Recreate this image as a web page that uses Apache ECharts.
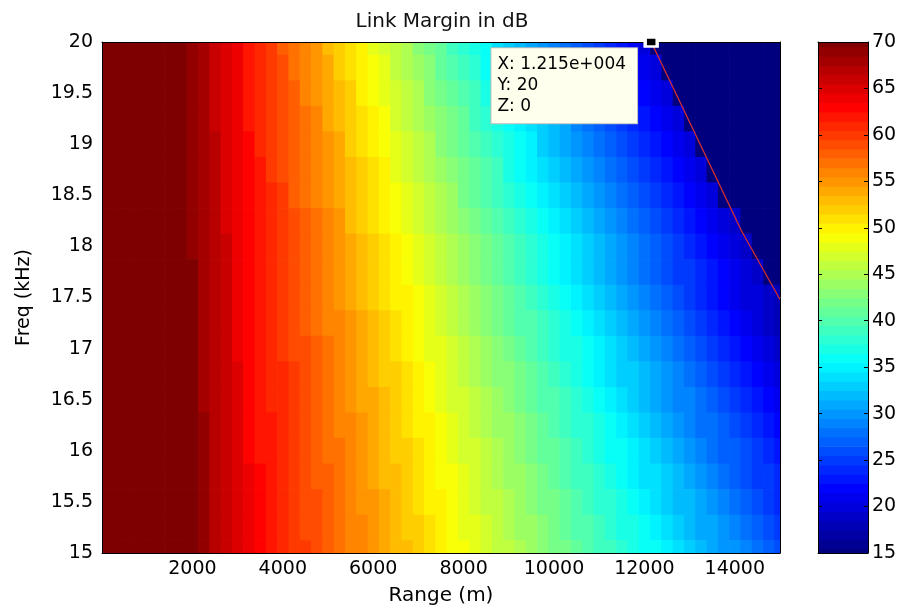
<!DOCTYPE html>
<html>
<head>
<meta charset="utf-8">
<script src="https://cdn.jsdelivr.net/npm/echarts@6/dist/echarts.min.js"></script>
<style>
html, body { margin: 0; padding: 0; background: #ffffff; }
#chart { width: 898px; height: 608px; }
</style>
</head>
<body>
<div id="chart"></div>
<script>
// ---------- text ----------
const titleText = 'Link Margin in dB';
const xAxisName = 'Range (m)';
const yAxisName = 'Freq (kHz)';

// ---------- axes / ticks ----------
const xTickValues = [2000, 4000, 6000, 8000, 10000, 12000, 14000];
const yTickLabels = ['15', '15.5', '16', '16.5', '17', '17.5', '18', '18.5', '19', '19.5', '20'];
const colorbarTicks = [15, 20, 25, 30, 35, 40, 45, 50, 55, 60, 65, 70];

// ---------- grid of the surface ----------
const rangeM = [0, 250, 500, 750, 1000, 1250, 1500, 1750, 2000, 2250, 2500, 2750, 3000, 3250, 3500, 3750,
  4000, 4250, 4500, 4750, 5000, 5250, 5500, 5750, 6000, 6250, 6500, 6750, 7000, 7250, 7500, 7750,
  8000, 8250, 8500, 8750, 9000, 9250, 9500, 9750, 10000, 10250, 10500, 10750, 11000, 11250, 11500, 11750,
  12000, 12250, 12500, 12750, 13000, 13250, 13500, 13750, 14000, 14250, 14500, 14750, 15000];
const freqKHz = [20, 19.75, 19.5, 19.25, 19, 18.75, 18.5, 18.25, 18, 17.75, 17.5, 17.25, 17, 16.75, 16.5, 16.25, 16, 15.75, 15.5, 15.25, 15];

// ---------- link margin (dB), one row per frequency ----------
const m2000 = [84,82,80,78,76,74,72,71,69,68,66,65,64,62,61,60,58,57,56,55,53,52,51,50,48,47,46,45,43,42,41,39,38,37,36,34,33,32,31,30,29,28,27,26,25,24,23,22,20,14,13,12,12,11,10,9,8,7,6,5,4];
const m1975 = [84,82,80,78,76,74,72,71,69,68,66,65,64,62,61,60,59,57,56,55,54,52,51,50,49,48,46,45,44,43,41,40,39,38,36,35,34,33,32,31,30,29,28,27,26,24,23,22,21,20,14,14,13,12,11,10,9,8,7,6,5];
const m1950 = [84,82,80,78,76,74,72,71,69,68,66,65,64,62,61,60,59,58,56,55,54,53,52,50,49,48,47,46,45,43,42,41,40,39,37,36,35,34,33,32,31,30,29,28,26,25,24,23,22,21,20,14,13,12,11,10,9,8,7,6,5];
const m1925 = [84,82,80,78,76,74,72,71,69,68,66,65,64,62,61,60,59,58,57,56,54,53,52,51,50,49,47,46,45,44,43,42,41,39,38,37,36,35,34,33,32,31,29,28,27,26,25,24,23,22,21,20,14,13,12,11,10,9,8,7,6];
const m1900 = [84,82,80,78,76,74,72,71,69,68,67,65,64,63,61,60,59,58,57,56,55,54,52,51,50,49,48,47,46,45,43,42,41,40,39,38,37,36,35,33,32,31,30,29,28,27,26,25,24,23,22,21,20,15,14,13,12,11,10,9,8];
const m1875 = [84,82,80,78,76,74,72,71,69,68,67,65,64,63,62,60,59,58,57,56,55,54,53,52,51,50,48,47,46,45,44,43,42,41,40,39,37,36,35,34,33,32,31,30,29,28,27,26,25,24,23,22,21,20,15,14,13,12,11,10,9];
const m1850 = [84,82,80,78,76,74,72,71,69,68,67,65,64,63,62,61,60,58,57,56,55,54,53,52,51,50,49,48,47,46,45,44,42,41,40,39,38,37,36,35,34,33,32,31,30,29,28,27,26,25,24,23,22,21,20,15,14,13,12,11,10];
const m1825 = [84,82,80,78,76,74,72,71,69,68,67,65,64,63,62,61,60,59,58,57,56,55,53,52,51,50,49,48,47,46,45,44,43,42,41,40,39,38,37,36,35,34,33,32,31,30,29,28,27,26,25,24,23,22,21,20,19,14,13,12,11];
const m1800 = [84,82,80,78,76,74,72,71,69,68,67,66,64,63,62,61,60,59,58,57,56,55,54,53,52,51,50,49,48,47,46,45,44,43,42,41,40,39,38,37,36,35,34,33,32,31,30,29,28,27,26,25,24,23,22,21,20,19,14,13,12];
const m1775 = [84,82,80,78,76,74,72,71,70,68,67,66,64,63,62,61,60,59,58,57,56,55,54,53,52,51,50,49,48,47,46,45,44,43,42,41,40,39,38,37,36,35,34,33,32,31,30,29,28,27,26,25,25,24,23,22,21,20,19,14,13];
const m1750 = [84,82,80,78,76,74,72,71,70,68,67,66,64,63,62,61,60,59,58,57,56,55,54,53,52,51,50,50,49,48,47,46,45,44,43,42,41,40,39,38,37,36,35,34,33,32,31,30,29,28,27,26,25,24,23,22,21,20,20,19,18];
const m1725 = [84,82,80,78,76,74,72,71,70,68,67,66,64,63,62,61,60,59,58,57,56,56,55,54,53,52,51,50,49,48,47,46,45,44,43,42,41,40,40,39,38,37,36,35,34,33,32,31,30,29,28,27,26,25,24,23,22,21,20,19,18];
const m1700 = [84,82,80,78,76,74,72,71,70,68,67,66,64,63,62,61,60,59,59,58,57,56,55,54,53,52,51,50,49,48,48,47,46,45,44,43,42,41,40,39,38,37,37,36,35,34,33,32,31,30,29,28,27,26,25,24,23,22,21,20,19];
const m1675 = [84,82,80,78,76,74,72,71,70,68,67,66,65,63,62,61,61,60,59,58,57,56,55,54,53,52,52,51,50,49,48,47,46,45,44,43,43,42,41,40,39,38,37,36,35,34,33,33,32,31,30,29,28,27,26,25,24,23,22,21,20];
const m1650 = [84,82,80,78,76,74,72,71,70,68,67,66,65,63,62,61,61,60,59,58,57,56,55,54,54,53,52,51,50,49,48,47,47,46,45,44,43,42,41,40,40,39,38,37,36,35,34,33,32,31,30,29,29,28,27,26,25,24,23,22,21];
const m1625 = [84,82,80,78,76,74,72,71,70,69,67,66,65,63,62,62,61,60,59,58,57,56,56,55,54,53,52,51,50,50,49,48,47,46,45,44,44,43,42,41,40,39,38,38,37,36,35,34,33,32,31,30,29,28,28,27,26,25,24,23,22];
const m1600 = [84,82,80,78,76,74,72,71,70,69,67,66,65,63,62,62,61,60,59,58,57,57,56,55,54,53,52,52,51,50,49,48,47,47,46,45,44,43,42,41,41,40,39,38,37,36,36,35,34,33,32,31,30,29,28,27,27,26,25,24,23];
const m1575 = [84,82,80,78,76,74,72,71,70,69,67,66,65,64,63,62,61,60,59,58,58,57,56,55,54,53,53,52,51,50,49,49,48,47,46,45,44,44,43,42,41,40,39,39,38,37,36,35,34,34,33,32,31,30,29,28,27,26,25,25,24];
const m1550 = [84,82,80,78,76,74,72,71,70,69,67,66,65,64,63,62,61,60,59,59,58,57,56,55,55,54,53,52,51,50,50,49,48,47,46,46,45,44,43,42,42,41,40,39,38,38,37,36,35,34,33,32,32,31,30,29,28,27,26,25,24];
const m1525 = [84,82,80,78,76,74,72,71,70,69,67,66,65,64,63,62,61,60,59,59,58,57,56,56,55,54,53,52,52,51,50,49,48,48,47,46,45,44,44,43,42,41,40,40,39,38,37,37,36,35,34,33,32,31,31,30,29,28,27,26,25];
const m1500 = [84,82,80,78,76,74,72,71,70,69,67,66,65,64,63,62,61,60,60,59,58,57,56,56,55,54,53,53,52,51,50,49,49,48,47,46,46,45,44,43,42,42,41,40,39,39,38,37,36,36,35,34,33,32,31,30,30,29,28,27,26];

const marginRows = [m2000, m1975, m1950, m1925, m1900, m1875, m1850, m1825, m1800, m1775, m1750,
  m1725, m1700, m1675, m1650, m1625, m1600, m1575, m1550, m1525, m1500];

// ---------- colour bar levels ----------
const colorbarLevels = [15,16,17,18,19,20,21,22,23,24,25,26,27,28,29,30,31,32,33,34,35,36,37,38,39,40,41,42,
  43,44,45,46,47,48,49,50,51,52,53,54,55,56,57,58,59,60,61,62,63,64,65,66,67,68,69,70];

// ---------- zero contour (red line) ----------
const contourRange = [12150, 12800, 13450, 14150, 15000];
const contourFreq = [20, 19.4, 18.8, 18.15, 17.48];

// ---------- data tip ----------
const tipPoint = [12150, 20, 0];

// =====================================================================
const FONT = 'DejaVu Sans';
const jet = ['#00007F', '#0000FF', '#007FFF', '#00FFFF', '#7FFF7F', '#FFFF00', '#FF7F00', '#FF0000', '#7F0000'];

const surfaceData = [];
marginRows.forEach(function (row, i) {
  row.forEach(function (z, j) {
    surfaceData.push([rangeM[j], freqKHz[i], z]);
  });
});
const colorbarData = colorbarLevels.map(function (v) { return [0.5, v, v]; });
const contourData = contourRange.map(function (r, i) { return [r, contourFreq[i]]; });

function matlabExp(v) {
  const s = v.toExponential(3).split('e');
  const sign = s[1][0] === '-' ? '-' : '+';
  const digits = s[1].replace(/[+-]/, '');
  return s[0] + 'e' + sign + ('000' + digits).slice(-3);
}
const tipText = ['X: ' + matlabExp(tipPoint[0]), 'Y: ' + tipPoint[1], 'Z: ' + tipPoint[2]].join('\n');

function cellRenderer(dx, dy) {
  return function (params, api) {
    const x = api.value(0), y = api.value(1);
    const a = api.coord([x - dx / 2, y + dy / 2]);
    const b = api.coord([x + dx / 2, y - dy / 2]);
    return {
      type: 'rect',
      shape: { x: a[0], y: a[1], width: b[0] - a[0] + 0.7, height: b[1] - a[1] + 0.7 },
      style: { fill: api.visual('color'), stroke: null },
      silent: true
    };
  };
}

const black = '#000000';
const lineStyle = { color: black, width: 1 };
const labelStyle = { color: black, fontFamily: FONT, fontSize: 19 };

const chart = echarts.init(document.getElementById('chart'), null, { renderer: 'canvas' });
chart.setOption({
  animation: false,
  backgroundColor: '#ffffff',
  title: {
    text: titleText, left: 437, top: 7, textAlign: 'center',
    textStyle: { color: '#111', fontFamily: FONT, fontSize: 20, fontWeight: 'normal' }
  },
  grid: [
    { left: 102, right: 118, top: 42, bottom: 55, outerBoundsMode: 'none', containLabel: false },
    { left: 818, width: 50, top: 42, bottom: 55, outerBoundsMode: 'none', containLabel: false }
  ],
  xAxis: [
    { gridIndex: 0, type: 'value', min: 0, max: 15000, position: 'bottom', z: 10,
      axisLine: { show: true, onZero: false, lineStyle: lineStyle }, axisTick: { show: false }, splitLine: { show: false },
      axisLabel: Object.assign({ customValues: xTickValues, margin: 7, formatter: function (v) { return String(v); } }, labelStyle),
      name: xAxisName, nameLocation: 'middle', nameGap: 33,
      nameTextStyle: { color: black, fontFamily: FONT, fontSize: 20 } },
    { gridIndex: 0, type: 'value', min: 0, max: 15000, position: 'top', z: 10,
      axisLine: { show: true, onZero: false, lineStyle: lineStyle }, axisTick: { show: false }, axisLabel: { show: false }, splitLine: { show: false } },
    { gridIndex: 1, type: 'value', min: 0, max: 1, position: 'bottom', z: 10,
      axisLine: { show: true, onZero: false, lineStyle: lineStyle }, axisTick: { show: false }, axisLabel: { show: false }, splitLine: { show: false } },
    { gridIndex: 1, type: 'value', min: 0, max: 1, position: 'top', z: 10,
      axisLine: { show: true, onZero: false, lineStyle: lineStyle }, axisTick: { show: false }, axisLabel: { show: false }, splitLine: { show: false } }
  ],
  yAxis: [
    { gridIndex: 0, type: 'value', min: 15, max: 20, interval: 0.5, position: 'left', z: 10,
      axisLine: { show: true, onZero: false, lineStyle: lineStyle }, axisTick: { show: false }, splitLine: { show: false },
      axisLabel: Object.assign({ margin: 9, formatter: function (v) { return yTickLabels[Math.round((v - 15) * 2)]; } }, labelStyle),
      name: yAxisName, nameLocation: 'middle', nameGap: 68, nameRotate: 90,
      nameTextStyle: { color: black, fontFamily: FONT, fontSize: 19 } },
    { gridIndex: 0, type: 'value', min: 15, max: 20, interval: 0.5, position: 'right', z: 10,
      axisLine: { show: true, onZero: false, lineStyle: lineStyle }, axisTick: { show: false }, axisLabel: { show: false }, splitLine: { show: false } },
    { gridIndex: 1, type: 'value', min: 15, max: 70, interval: 5, position: 'right', z: 10,
      axisLine: { show: true, onZero: false, lineStyle: lineStyle },
      axisTick: { show: true, inside: true, length: 4, lineStyle: lineStyle }, splitLine: { show: false },
      axisLabel: Object.assign({ customValues: colorbarTicks, margin: 4 }, labelStyle) },
    { gridIndex: 1, type: 'value', min: 15, max: 70, interval: 5, position: 'left', z: 10,
      axisLine: { show: true, onZero: false, lineStyle: lineStyle },
      axisTick: { show: true, inside: true, length: 4, lineStyle: lineStyle }, axisLabel: { show: false }, splitLine: { show: false } }
  ],
  visualMap: {
    show: false, type: 'continuous', min: 15, max: 70, dimension: 2, seriesIndex: [0, 3],
    inRange: { color: jet }
  },
  series: [
    { type: 'custom', name: 'margin', xAxisIndex: 0, yAxisIndex: 0, clip: true, z: 1,
      renderItem: cellRenderer(rangeM[1] - rangeM[0], freqKHz[0] - freqKHz[1]),
      encode: { x: 0, y: 1 }, data: surfaceData },
    { type: 'line', name: 'contour', xAxisIndex: 0, yAxisIndex: 0, z: 3, symbol: 'none', smooth: false,
      lineStyle: { color: '#E0302A', width: 1.2 }, data: contourData, silent: true },
    { type: 'scatter', name: 'tip', xAxisIndex: 0, yAxisIndex: 0, z: 12, clip: false,
      symbol: 'rect', symbolSize: [12, 9],
      itemStyle: { color: '#000000', borderColor: '#ffffff', borderWidth: 3, opacity: 1 },
      emphasis: { disabled: true },
      label: { show: true, position: [-152, 12], align: 'left', verticalAlign: 'top', opacity: 1,
        formatter: tipText, color: '#000', fontFamily: FONT, fontSize: 17, lineHeight: 21,
        backgroundColor: '#FFFFEE', borderColor: '#BBBBBB', borderWidth: 1, padding: [6, 11, 6, 6] },
      data: [[tipPoint[0], tipPoint[1]]] },
    { type: 'custom', name: 'colorbar', xAxisIndex: 2, yAxisIndex: 2, clip: true, z: 1,
      renderItem: cellRenderer(1, colorbarLevels[1] - colorbarLevels[0]),
      encode: { x: 0, y: 1 }, data: colorbarData }
  ]
});
</script>
</body>
</html>
